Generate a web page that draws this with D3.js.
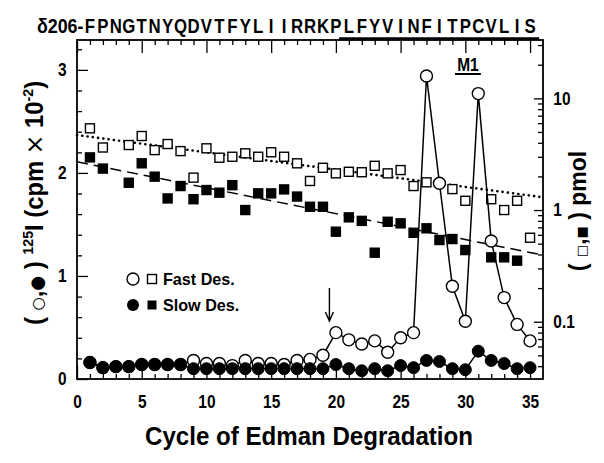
<!DOCTYPE html>
<html><head><meta charset="utf-8">
<script src="https://cdn.jsdelivr.net/npm/d3@7"></script>
<style>
html,body{margin:0;padding:0;background:#fff;}
text{font-family:"Liberation Sans",Arial,sans-serif;font-weight:bold;fill:#000;}
</style></head>
<body><svg id="c" width="604" height="463"></svg>
<script>
const cycles = d3.range(1, 36);
const residues = "FPNGTNYQDVTFYLIIRRKPLFYVINFITPCVLIS".split("");
// 125I cpm x 10^-2 (left axis)
const fastCpm = [0.16,0.11,0.12,0.12,0.14,0.14,0.14,0.14,0.18,0.15,0.15,0.13,0.18,0.15,0.15,0.14,0.18,0.19,0.23,0.45,0.38,0.34,0.37,0.26,0.40,0.45,2.94,1.90,0.90,0.56,2.77,1.34,0.79,0.53,0.37];
const slowCpm = [0.16,0.11,0.12,0.12,0.14,0.14,0.14,0.14,0.10,0.10,0.10,0.10,0.10,0.10,0.10,0.10,0.10,0.10,0.10,0.14,0.10,0.08,0.10,0.08,0.13,0.11,0.18,0.17,0.10,0.09,0.27,0.18,0.15,0.10,0.11];
// pmol (right log axis)
const fastPmol = [5.39,3.63,null,3.82,4.60,3.44,3.90,3.37,1.95,3.57,2.94,3.00,3.22,3.00,3.29,3.00,2.62,1.82,2.39,2.13,2.20,2.18,2.49,2.13,2.28,1.64,1.77,null,1.54,1.21,null,1.25,1.00,1.21,0.565];
const slowPmol = [2.96,2.35,null,1.755,2.62,1.99,1.27,1.64,1.25,1.51,1.43,1.67,1.00,1.41,1.41,1.53,1.32,1.07,1.07,0.64,0.86,0.80,0.415,0.785,0.76,0.626,0.686,0.539,0.55,0.438,null,0.377,0.377,0.352,null];
const fitCycles = [0, 36];
const fastFit = [4.69, 1.30];
const slowFit = [2.7, 0.395];
const xTicks = [0,5,10,15,20,25,30,35];
const yTicks = [0,1,2,3];
const logTicks = [0.1,1,10];

const svg = d3.select("#c");
const L=77, R=543, T=40, B=379;
const x = d3.scaleLinear().domain([0,36]).range([L,R]);
const y = d3.scaleLinear().domain([0,3.29]).range([B,T]);
const yl = d3.scaleLog().domain([0.0307,33.3]).range([B,T]);
const NARROW = 0.86;

// frame
svg.append("rect").attr("x",L).attr("y",T).attr("width",R-L).attr("height",B-T)
  .attr("fill","none").attr("stroke","#000").attr("stroke-width",1.8);

const minorX = d3.range(1,36).filter(d=>d%5!==0);
function axis(g, a){
  g.call(a); g.select(".domain").remove();
  g.selectAll("line").attr("stroke","#000").attr("stroke-width",1.3);
  g.selectAll("text").attr("font-size",18).attr("font-family",null).attr("transform",`scale(${NARROW},1)`);
}
// bottom
svg.append("g").attr("transform",`translate(0,${B})`).call(g=>axis(g,d3.axisBottom(x).tickValues(minorX).tickSize(-5).tickFormat("")));
svg.append("g").attr("transform",`translate(0,${B})`).call(g=>axis(g,d3.axisBottom(x).tickValues(xTicks).tickSize(-13).tickPadding(16).tickFormat(d3.format("d"))));
// top
svg.append("g").attr("transform",`translate(0,${T})`).call(g=>axis(g,d3.axisTop(x).tickValues(minorX).tickSize(-5).tickFormat("")));
svg.append("g").attr("transform",`translate(0,${T})`).call(g=>axis(g,d3.axisTop(x).tickValues(xTicks).tickSize(-13).tickFormat("")));
// left
const minorY = d3.range(0,17).map(i=>+(i*0.2).toFixed(1)).filter(v=>v<=3.29 && Math.abs(v-Math.round(v))>0.01);
svg.append("g").attr("transform",`translate(${L},0)`).call(g=>axis(g,d3.axisLeft(y).tickValues(minorY).tickSize(-5).tickFormat("")));
svg.append("g").attr("transform",`translate(${L},0)`).call(g=>axis(g,d3.axisLeft(y).tickValues(yTicks).tickSize(-11).tickPadding(12).tickFormat(d3.format("d"))));
// right log
const minorL = [];
[0.01,0.1,1,10].forEach(d=>{for(let k=2;k<=9;k++){const v=d*k; if(v>=0.0307 && v<=33.3) minorL.push(v);}});
svg.append("g").attr("transform",`translate(${R},0)`).call(g=>axis(g,d3.axisRight(yl).tickValues(minorL).tickSize(-5).tickFormat("")));
svg.append("g").attr("transform",`translate(${R},0)`).call(g=>axis(g,d3.axisRight(yl).tickValues(logTicks).tickSize(-9).tickPadding(12).tickFormat(d=>d3.format("~g")(d))));

// fit lines
const fitLine = d3.line().x((d,i)=>x(fitCycles[i])).y(d=>yl(d));
svg.append("path").attr("d",fitLine(fastFit)).attr("fill","none").attr("stroke","#000")
  .attr("stroke-width",2.6).attr("stroke-dasharray","0.1,5.2").attr("stroke-linecap","round");
svg.append("path").attr("d",fitLine(slowFit)).attr("fill","none").attr("stroke","#000")
  .attr("stroke-width",1.5).attr("stroke-dasharray","11,6");

// squares
const S=9;
function squares(data, fill){
  svg.append("g").selectAll("rect").data(cycles.map((c,i)=>({c,v:data[i]})).filter(d=>d.v!=null))
   .join("rect").attr("x",d=>x(d.c)-S/2).attr("y",d=>yl(d.v)-S/2).attr("width",S).attr("height",S)
   .attr("fill",fill).attr("stroke","#000").attr("stroke-width",1.4);
}
squares(fastPmol,"#fff");
squares(slowPmol,"#000");

// circle lines + circles
const cl = d3.line().x((d,i)=>x(cycles[i])).y(d=>y(d));
svg.append("path").attr("d",cl(fastCpm)).attr("fill","none").attr("stroke","#000").attr("stroke-width",1.5);
svg.append("path").attr("d",cl(slowCpm)).attr("fill","none").attr("stroke","#000").attr("stroke-width",1.5);
const r=6;
svg.append("g").selectAll("circle").data(fastCpm).join("circle")
  .attr("cx",(d,i)=>x(cycles[i])).attr("cy",d=>y(d)).attr("r",r).attr("fill","#fff").attr("stroke","#000").attr("stroke-width",1.4);
svg.append("g").selectAll("circle").data(slowCpm).join("circle")
  .attr("cx",(d,i)=>x(cycles[i])).attr("cy",d=>y(d)).attr("r",r).attr("fill","#000").attr("stroke","#000").attr("stroke-width",1);

// arrow at cycle 19.5
const ax = x(19.5);
svg.append("path").attr("d",`M${ax},288 L${ax},321 M${ax-4},312 L${ax},321 L${ax+4},312`)
  .attr("fill","none").attr("stroke","#000").attr("stroke-width",1.4);

// M1
svg.append("text").attr("transform",`translate(${x(30.2)},71) scale(${NARROW},1)`).attr("text-anchor","middle").attr("font-size",18).text("M1");
svg.append("line").attr("x1",x(29.2)).attr("x2",x(31.2)).attr("y1",74).attr("y2",74).attr("stroke","#000").attr("stroke-width",2);

// sequence header
svg.append("text").attr("transform",`translate(${x(1)-6.5},32.5) scale(0.85,1)`).attr("text-anchor","end").attr("font-size",21).text("δ206-");
svg.append("g").selectAll("text").data(residues).join("text")
  .attr("transform",(d,i)=>`translate(${x(cycles[i])},32.5) scale(0.8,1)`).attr("text-anchor","middle").attr("font-size",21).text(d=>d);
svg.append("line").attr("x1",x(20.25)).attr("x2",x(35.7)).attr("y1",38.5).attr("y2",38.5).attr("stroke","#000").attr("stroke-width",2.6);

// legend
const lg = svg.append("g");
lg.append("circle").attr("cx",133).attr("cy",279).attr("r",6).attr("fill","#fff").attr("stroke","#000").attr("stroke-width",1.4);
lg.append("rect").attr("x",152-4.5).attr("y",279-4.5).attr("width",9).attr("height",9).attr("fill","#fff").attr("stroke","#000").attr("stroke-width",1.4);
lg.append("text").attr("transform","translate(163,285) scale(0.95,1)").attr("font-size",17).text("Fast Des.");
lg.append("circle").attr("cx",133).attr("cy",305).attr("r",6).attr("fill","#000");
lg.append("rect").attr("x",152-4.5).attr("y",305-4.5).attr("width",9).attr("height",9).attr("fill","#000");
lg.append("text").attr("transform","translate(163,311) scale(0.95,1)").attr("font-size",17).text("Slow Des.");

// axis titles
svg.append("text").attr("x",309).attr("y",445).attr("text-anchor","middle").attr("font-size",26)
  .attr("textLength",328).attr("lengthAdjust","spacingAndGlyphs").text("Cycle of Edman Degradation");
const yt = svg.append("text").attr("transform","translate(43,203) rotate(-90) scale(0.95,1)").attr("text-anchor","middle").attr("font-size",25);
yt.append("tspan").text("( ");
yt.append("tspan").attr("font-family","DejaVu Sans").attr("font-size",16).text("○");
yt.append("tspan").text(",");
yt.append("tspan").attr("font-family","DejaVu Sans").attr("font-size",18).text("●");
yt.append("tspan").text(" ) ");
yt.append("tspan").attr("font-size",15).attr("dy",-10).text("125");
yt.append("tspan").attr("dy",10).text("I (cpm ");
yt.append("tspan").attr("font-family","DejaVu Sans").attr("font-weight","normal").text("×");
yt.append("tspan").text(" 10");
yt.append("tspan").attr("font-size",15).attr("dy",-10).text("-2");
yt.append("tspan").attr("dy",10).text(")");
const rt = svg.append("text").attr("transform","translate(586,211) rotate(-90)").attr("text-anchor","middle").attr("font-size",23);
rt.append("tspan").text("( ");
rt.append("tspan").attr("font-family","DejaVu Sans").attr("font-size",13).text("□");
rt.append("tspan").text(",");
rt.append("tspan").attr("font-family","DejaVu Sans").attr("font-size",13).text("■");
rt.append("tspan").text(" ) pmol");
</script></body></html>
